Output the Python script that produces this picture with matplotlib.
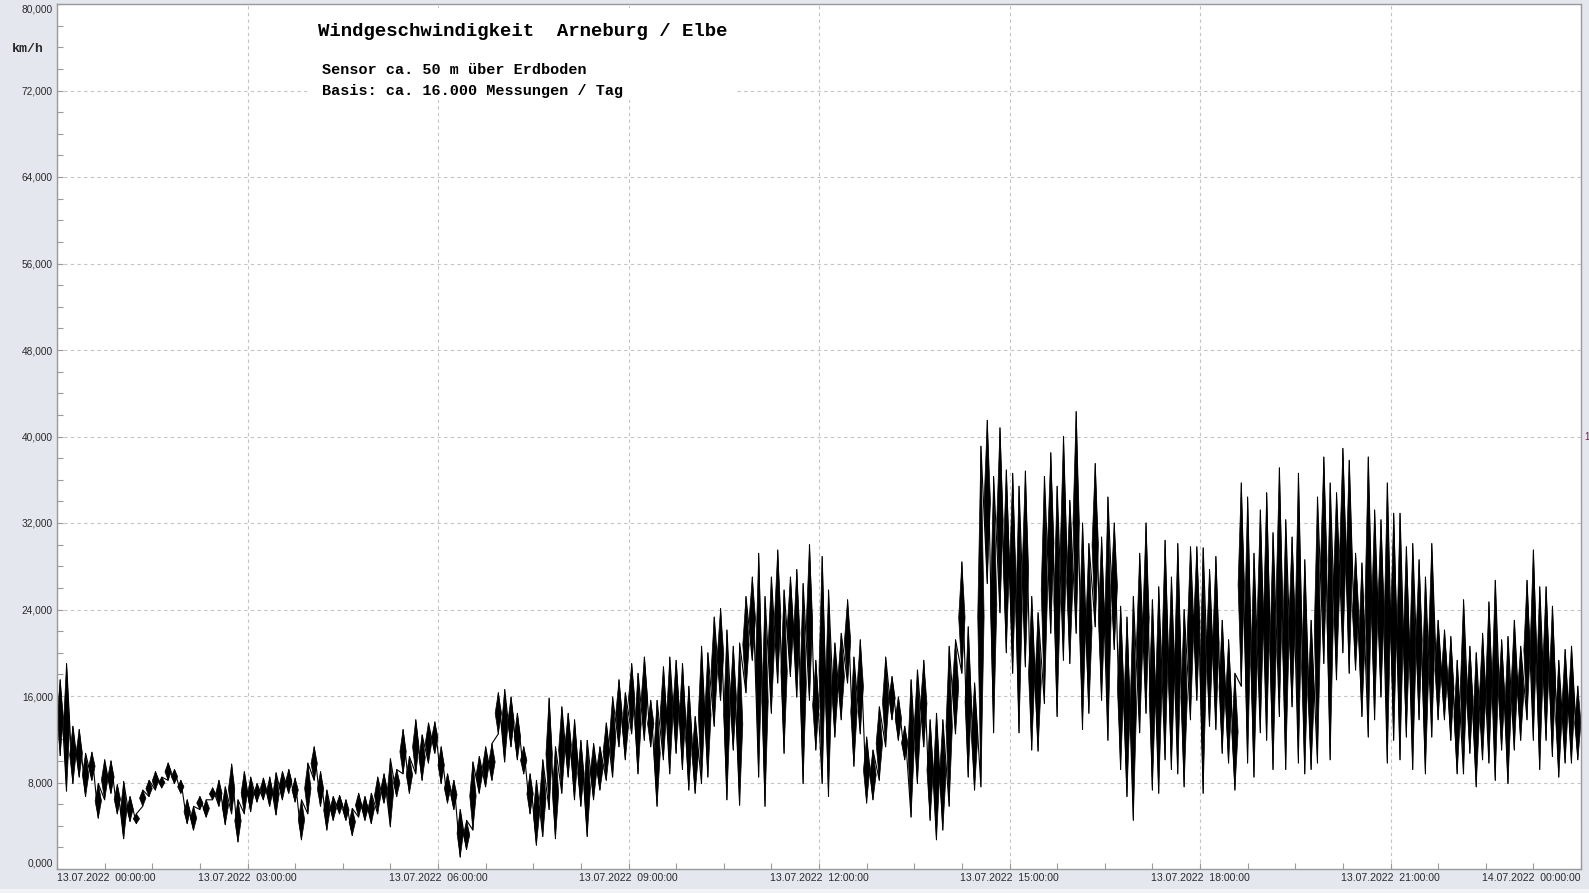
import numpy as np
from matplotlib import pyplot as plt
from matplotlib.collections import PolyCollection
from matplotlib.patches import Rectangle
from matplotlib.ticker import FixedLocator, MultipleLocator

# Windgeschwindigkeit Arneburg, 13.07.2022
# in 6 minute bins: highest and lowest value per bin (km/h)
bin_width = 0.1  # hours

speed_high = [
    17.5, 19.0, 13.2, 12.9, 10.7, 10.8, 7.9, 10.1, 10.0, 7.8,
    8.1, 6.7, 5.1, 7.3, 8.2, 9.0, 8.5, 9.8, 9.2, 8.2,
    6.4, 5.8, 6.7, 6.4, 7.5, 8.2, 7.6, 9.7, 6.4, 9.0,
    8.5, 7.9, 8.4, 8.5, 8.9, 9.0, 9.2, 8.4, 6.4, 9.8,
    11.3, 9.0, 7.3, 6.7, 6.8, 6.4, 5.6, 7.0, 6.7, 7.0,
    8.5, 8.8, 10.2, 9.2, 12.9, 10.4, 13.8, 12.4, 13.5, 13.6,
    11.3, 8.8, 8.2, 5.5, 4.5, 9.9, 10.4, 11.3, 11.6, 16.3,
    16.6, 15.9, 14.4, 11.3, 8.8, 8.2, 10.1, 15.8, 11.3, 15.0,
    14.4, 13.8, 11.9, 11.9, 11.6, 11.3, 13.5, 15.9, 17.5, 16.3,
    19.0, 18.1, 19.6, 15.6, 15.6, 18.7, 19.6, 19.3, 19.0, 16.9,
    14.1, 20.6, 20.0, 23.3, 24.1, 22.1, 20.6, 20.9, 25.2, 27.0,
    29.2, 25.2, 27.0, 29.5, 25.8, 27.0, 27.7, 26.4, 30.0, 19.3,
    28.9, 25.8, 20.9, 21.8, 24.9, 19.6, 21.2, 12.2, 11.0, 15.0,
    19.6, 17.8, 15.9, 13.2, 17.5, 18.4, 19.3, 13.8, 14.4, 13.8,
    20.6, 21.2, 28.4, 22.4, 17.2, 39.1, 41.5, 36.3, 40.8, 36.9,
    36.6, 35.4, 36.8, 25.2, 23.7, 36.3, 38.5, 35.4, 40.0, 34.1,
    42.3, 32.0, 30.1, 37.5, 30.7, 34.4, 32.0, 24.3, 23.3, 25.2,
    29.2, 32.0, 24.9, 26.1, 30.4, 27.0, 30.1, 24.0, 29.8, 29.8,
    29.7, 27.7, 28.9, 23.0, 21.2, 18.1, 35.7, 34.4, 29.2, 33.2,
    34.8, 31.1, 37.1, 32.3, 30.7, 36.6, 28.6, 23.0, 34.4, 38.1,
    35.7, 34.8, 38.9, 37.8, 29.2, 28.3, 38.1, 33.2, 32.3, 35.7,
    32.9, 32.9, 29.8, 30.1, 28.6, 27.0, 30.1, 23.0, 22.1, 21.5,
    19.3, 24.9, 20.6, 20.0, 21.8, 24.7, 26.7, 21.2, 21.5, 23.0,
    20.6, 26.7, 29.5, 26.1, 26.1, 24.3, 19.3, 20.3, 20.6, 16.9,
]

speed_low = [
    10.5, 7.2, 7.9, 8.5, 6.7, 8.2, 4.7, 6.4, 7.0, 5.1,
    2.8, 4.4, 4.2, 5.8, 6.7, 7.3, 7.5, 8.2, 7.9, 7.0,
    4.2, 3.6, 5.5, 4.8, 6.4, 5.8, 4.1, 5.1, 2.5, 5.1,
    5.3, 6.2, 6.4, 5.8, 5.0, 6.4, 7.0, 6.2, 2.7, 5.1,
    8.2, 5.8, 3.6, 4.5, 5.1, 4.5, 3.1, 4.8, 4.5, 4.2,
    5.1, 6.1, 3.9, 6.7, 8.8, 7.0, 8.8, 8.2, 9.8, 10.7,
    7.9, 6.1, 5.5, 1.1, 1.8, 3.6, 7.0, 7.6, 8.2, 12.5,
    9.9, 11.3, 10.1, 8.8, 5.1, 2.2, 3.0, 5.5, 2.8, 7.0,
    8.5, 6.4, 5.8, 3.0, 6.4, 7.3, 8.2, 8.5, 11.3, 10.1,
    12.5, 8.8, 11.9, 11.3, 5.8, 10.1, 8.8, 10.7, 9.2, 7.3,
    7.0, 7.9, 8.5, 13.2, 15.6, 6.4, 11.0, 5.9, 16.3, 19.3,
    8.5, 5.8, 14.4, 17.2, 10.7, 17.8, 15.9, 7.9, 15.6, 11.0,
    7.9, 6.7, 12.2, 13.8, 17.2, 9.5, 12.5, 6.1, 6.4, 8.2,
    11.3, 13.8, 11.9, 10.1, 4.8, 7.9, 11.3, 4.5, 2.7, 3.6,
    5.8, 12.5, 18.1, 8.5, 7.3, 7.6, 26.4, 12.6, 23.7, 20.0,
    18.1, 12.6, 18.7, 11.0, 10.9, 15.3, 21.8, 14.1, 19.3, 19.0,
    21.8, 12.9, 14.4, 22.4, 15.6, 11.9, 20.3, 9.2, 6.7, 4.5,
    12.6, 14.4, 7.3, 7.0, 10.1, 9.2, 8.8, 7.6, 13.8, 15.6,
    7.0, 13.2, 12.9, 10.7, 9.8, 7.3, 16.9, 9.8, 8.5, 12.6,
    11.9, 9.2, 14.1, 9.2, 15.0, 9.8, 8.8, 9.2, 9.8, 19.0,
    10.1, 17.5, 20.0, 18.1, 18.4, 14.1, 12.2, 13.8, 15.9, 9.8,
    11.9, 10.1, 12.2, 9.2, 13.8, 8.8, 12.2, 13.8, 13.8, 11.9,
    8.8, 8.8, 10.7, 7.6, 10.1, 9.8, 8.2, 11.0, 7.9, 11.0,
    11.9, 13.8, 11.9, 9.2, 11.9, 10.4, 8.5, 9.8, 9.8, 10.1,
]

x_tick_hours = [0, 3, 6, 9, 12, 15, 18, 21, 24]
x_tick_labels = [
    "13.07.2022  00:00:00", "13.07.2022  03:00:00", "13.07.2022  06:00:00",
    "13.07.2022  09:00:00", "13.07.2022  12:00:00", "13.07.2022  15:00:00",
    "13.07.2022  18:00:00", "13.07.2022  21:00:00", "14.07.2022  00:00:00",
]
y_ticks = [0, 8, 16, 24, 32, 40, 48, 56, 64, 72, 80]

title = "Windgeschwindigkeit  Arneburg / Elbe"
subtitle_1 = "Sensor ca. 50 m über Erdboden"
subtitle_2 = "Basis: ca. 16.000 Messungen / Tag"

W, H = 1589, 893
BG = "#e4e7ee"
GRID = "#c4c4c4"
LABEL = "#2a2a2a"
MONO = ["Liberation Mono", "DejaVu Sans Mono"]


def fx(px):
    return px / W


def fy(py):
    return 1 - py / H


def bin_shapes(high, low, half):
    # one diamond per bin: thin at the min and max, widest in between,
    # so the extremes read as spikes and the middle as a dense core
    mid = np.arange(len(high)) * bin_width + bin_width / 2
    verts = []
    for m, h, l in zip(mid, high, low):
        c = (h + l) / 2
        verts.append([(m, l), (m + half, c), (m, h), (m - half, c)])
    t = np.repeat(mid, 2)
    v = np.column_stack([low, high]).ravel()
    return verts, t, v


fig = plt.figure(figsize=(W / 100, H / 100), dpi=100, facecolor=BG)
fig.patches.append(Rectangle((0, 0), 1, 1 - 889 / H, transform=fig.transFigure,
                             facecolor="#f2f3f6", edgecolor="none", zorder=0))

ax = fig.add_axes([fx(57), fy(869), fx(1581) - fx(57), fy(4) - fy(869)])
ax.set_facecolor("white")
ax.set_axisbelow(True)

verts, t, v = bin_shapes(speed_high, speed_low, bin_width * 0.5)
ax.add_collection(PolyCollection(verts, facecolors="black", edgecolors="black",
                                 linewidths=0.5, zorder=2))
ax.plot(t, v, color="black", lw=0.8, zorder=2)

ax.set_xlim(0, 24)
ax.set_ylim(0, 80)

ax.xaxis.set_major_locator(FixedLocator(x_tick_hours))
ax.xaxis.set_minor_locator(MultipleLocator(0.75))
ax.set_xticks(x_tick_hours)
ax.set_xticklabels(x_tick_labels)
ax.yaxis.set_minor_locator(MultipleLocator(2))
ax.set_yticks(y_ticks)
ax.set_yticklabels([f"{y:.3f}".replace(".", ",") for y in y_ticks])

ax.tick_params(which="both", direction="in", color="#9a9a9a", labelcolor=LABEL,
               length=4, width=0.8)
ax.tick_params(axis="x", pad=3, labelsize=7.6)
ax.tick_params(axis="y", pad=3, labelsize=7.3)
for lab in ax.get_xticklabels() + ax.get_yticklabels():
    lab.set_family("Liberation Sans")

xl = ax.get_xticklabels()
xl[0].set_ha("left")
xl[-1].set_ha("right")
yl = ax.get_yticklabels()
yl[0].set_va("bottom")
yl[-1].set_va("top")

ax.grid(which="major", color=GRID, linestyle=(0, (3, 3)), lw=0.8)
for s in ax.spines.values():
    s.set_color("#9a9a9a")
    s.set_linewidth(1.0)

# white block behind the heading texts hides the grid there
ax.add_patch(Rectangle((fx(307), fy(100)), fx(737) - fx(307), fy(8) - fy(100),
                       transform=fig.transFigure, facecolor="white",
                       edgecolor="none", zorder=1))

fig.text(fx(318), fy(32), title, family=MONO, weight="bold", size=13.7,
         ha="left", va="center", color="black")
fig.text(fx(322), fy(70), subtitle_1, family=MONO, weight="bold", size=10.9,
         ha="left", va="center", color="black")
fig.text(fx(322), fy(91), subtitle_2, family=MONO, weight="bold", size=10.9,
         ha="left", va="center", color="black")

fig.text(fx(28), fy(49), "km/h", family=MONO, weight="bold", size=9.5,
         ha="center", va="center", color=LABEL)
fig.text(fx(1584), fy(437), "1", family="Liberation Sans", size=7,
         ha="left", va="center", color="#6b1d4a")

fig.savefig("out.png", dpi=100, facecolor=BG)
